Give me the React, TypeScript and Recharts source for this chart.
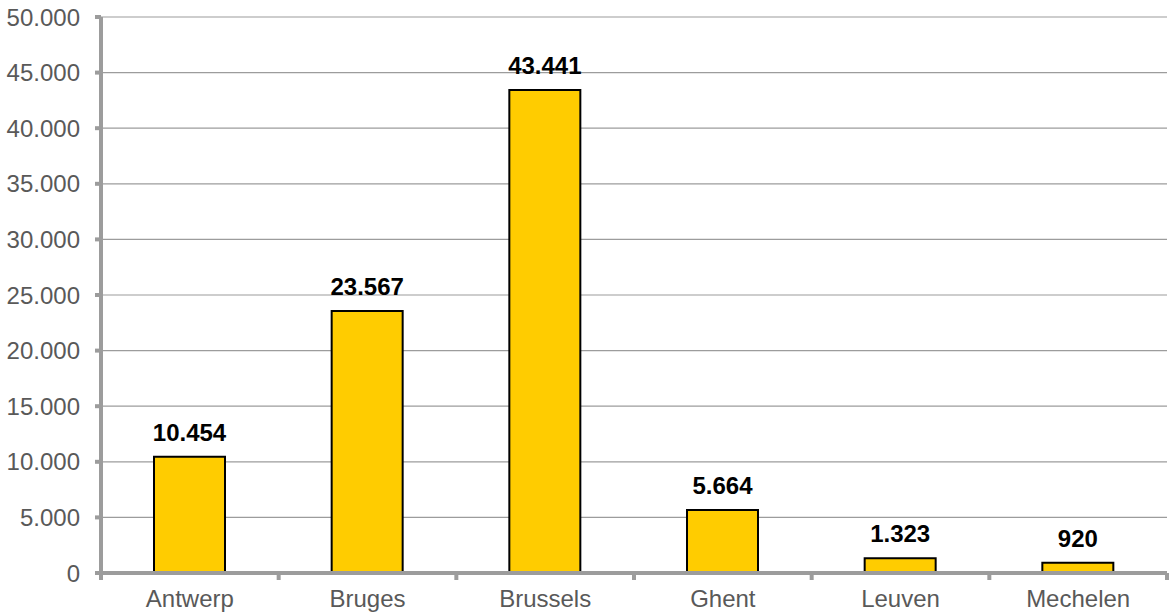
import { Bar, BarChart, CartesianGrid, LabelList, XAxis, YAxis } from "recharts";

const cities = ["Antwerp", "Bruges", "Brussels", "Ghent", "Leuven", "Mechelen"];
const visitors = [10454, 23567, 43441, 5664, 1323, 920];
const yTicks = [0, 5000, 10000, 15000, 20000, 25000, 30000, 35000, 40000, 45000, 50000];

const CHART_W = 1170;
const CHART_H = 616;
const MARGIN = { top: 17, right: 3, bottom: 13, left: 1 };
const Y_AXIS_W = 100;
const X_AXIS_H = 30;
const PLOT_W = CHART_W - MARGIN.left - MARGIN.right - Y_AXIS_W;
const BAND = PLOT_W / cities.length;

const FONT = "'Liberation Sans', Arial, sans-serif";
const AXIS_GREY = "#9c9c9c";
const TEXT_GREY = "#595959";
const TICK_MARGIN_X = 17;

// 50000 -> "50.000"
function formatThousands(value: number): string {
  return String(Math.round(value)).replace(/\B(?=(\d{3})+(?!\d))/g, ".");
}

const rows = cities.map((city, i) => ({ city, value: visitors[i] }));

// Category label plus the short stubs that sit on the category boundaries.
function CityTick(props: any) {
  const { x, y, payload, index } = props;
  const axisY = y - TICK_MARGIN_X;
  const left = x - BAND / 2;
  const right = x + BAND / 2;
  return (
    <g>
      <line x1={left} x2={left} y1={axisY} y2={axisY + 7} stroke={AXIS_GREY} strokeWidth={4} />
      {index === cities.length - 1 && (
        <line x1={right} x2={right} y1={axisY} y2={axisY + 7} stroke={AXIS_GREY} strokeWidth={4} />
      )}
      <text
        x={x}
        y={y}
        dy="0.71em"
        textAnchor="middle"
        fill={TEXT_GREY}
        fontSize={24}
        fontFamily={FONT}
      >
        {payload.value}
      </text>
    </g>
  );
}

export default function App() {
  return (
    <div style={{ position: "absolute", left: 0, top: 0, width: CHART_W, height: CHART_H, background: "#fff" }}>
      <BarChart width={CHART_W} height={CHART_H} data={rows} margin={MARGIN}>
        <CartesianGrid stroke={AXIS_GREY} strokeWidth={1.2} vertical={false} />
        <XAxis
          dataKey="city"
          height={X_AXIS_H}
          axisLine={{ stroke: AXIS_GREY, strokeWidth: 4 }}
          tickLine={false}
          tickSize={0}
          tickMargin={TICK_MARGIN_X}
          tick={<CityTick />}
          interval={0}
        />
        <YAxis
          width={Y_AXIS_W}
          domain={[0, 50000]}
          ticks={yTicks}
          interval={0}
          tickFormatter={formatThousands}
          axisLine={{ stroke: AXIS_GREY, strokeWidth: 4 }}
          tickLine={{ stroke: AXIS_GREY, strokeWidth: 4 }}
          tickSize={6}
          tickMargin={15}
          tick={{ fill: TEXT_GREY, fontSize: 24, fontFamily: FONT }}
        />
        <Bar
          dataKey="value"
          fill="#ffcc00"
          stroke="#000"
          strokeWidth={2}
          barSize={71}
          isAnimationActive={false}
        >
          <LabelList
            dataKey="value"
            position="top"
            offset={16}
            formatter={(v: any) => formatThousands(Number(v))}
            fill="#000"
            fontSize={24}
            fontWeight="bold"
            fontFamily={FONT}
          />
        </Bar>
      </BarChart>
    </div>
  );
}
